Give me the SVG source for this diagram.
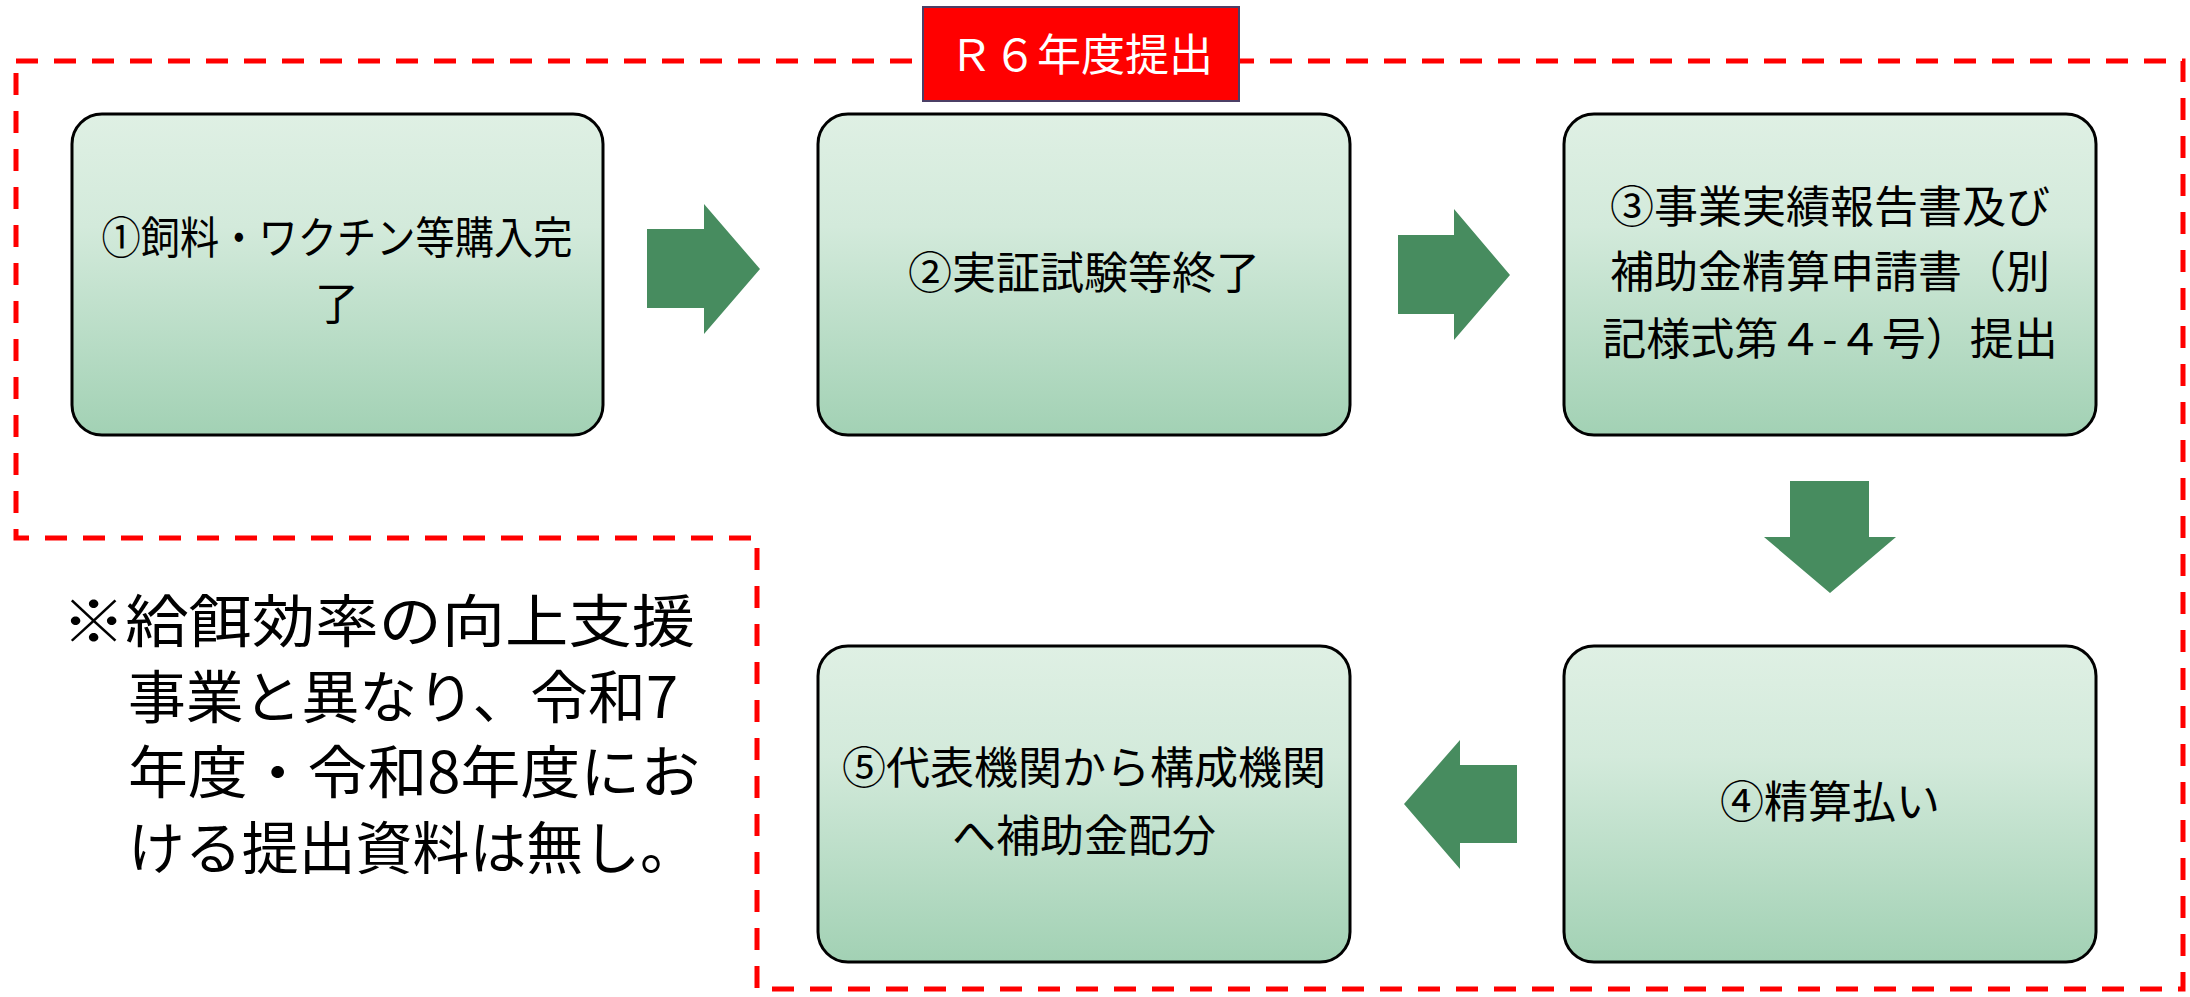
<svg xmlns="http://www.w3.org/2000/svg" width="2190" height="997" viewBox="0 0 2190 997">
<defs>
<linearGradient id="g" x1="0" y1="0" x2="0" y2="1">
<stop offset="0" stop-color="#dff0e4"/>
<stop offset="0.35" stop-color="#d3eadb"/>
<stop offset="1" stop-color="#a2d1b4"/>
</linearGradient>
<style>
.box{fill:url(#g);stroke:#000;stroke-width:3}
.t{font-family:"Noto Sans CJK JP","Noto Sans",sans-serif;font-size:44px;fill:#000;text-anchor:middle}
.arr{fill:#478c5f}
.note{font-family:"Noto Sans CJK JP","Noto Sans",sans-serif;font-size:57px;fill:#000}
</style>
</defs>
<rect width="2190" height="997" fill="#fff"/>
<path d="M16,61 H2183 V989 H757 V538 H16 Z" fill="none" stroke="#ff0000" stroke-width="5" stroke-dasharray="22 16"/>
<g id="label">
<rect x="923" y="7" width="316" height="94" fill="#ff0000" stroke="#4b3f66" stroke-width="2"/>
<text x="1081" y="71" class="t" style="fill:#fff">Ｒ６年度提出</text>
</g>
<g id="connectors">
<polygon class="arr" points="647,229 704,229 704,204 760,269 704,334 704,308 647,308"/>
<polygon class="arr" points="1398,235 1454,235 1454,209 1510,275 1454,340 1454,314 1398,314"/>
<polygon class="arr" points="1790,481 1869,481 1869,537 1896,537 1830,593 1764,537 1790,537"/>
<polygon class="arr" points="1517,765 1460,765 1460,740 1404,804 1460,869 1460,843 1517,843"/>
</g>
<g id="n1">
<rect class="box" x="72" y="114" width="531" height="321" rx="30"/>
<text class="t" x="337" y="254" textLength="471" lengthAdjust="spacingAndGlyphs">①飼料・ワクチン等購入完</text>
<text class="t" x="337" y="320">了</text>
</g>
<g id="n2">
<rect class="box" x="818" y="114" width="532" height="321" rx="30"/>
<text class="t" x="1084" y="289">②実証試験等終了</text>
</g>
<g id="n3">
<rect class="box" x="1564" y="114" width="532" height="321" rx="30"/>
<text class="t" x="1830" y="223">③事業実績報告書及び</text>
<text class="t" x="1830" y="288">補助金精算申請書（別</text>
<text class="t" x="1830" y="355">記様式第４-４号）提出</text>
</g>
<g id="n4">
<rect class="box" x="1564" y="646" width="532" height="316" rx="30"/>
<text class="t" x="1830" y="818">④精算払い</text>
</g>
<g id="n5">
<rect class="box" x="818" y="646" width="532" height="316" rx="30"/>
<text class="t" x="1084" y="784">⑤代表機関から構成機関</text>
<text class="t" x="1084" y="852">へ補助金配分</text>
</g>
<g id="note">
<text class="note" x="62" y="642" textLength="633" lengthAdjust="spacingAndGlyphs">※給餌効率の向上支援</text>
<text class="note" x="128" y="718" textLength="550" lengthAdjust="spacingAndGlyphs">事業と異なり、令和7</text>
<text class="note" x="128" y="793" textLength="572" lengthAdjust="spacingAndGlyphs">年度・令和8年度にお</text>
<text class="note" x="128" y="869" textLength="569" lengthAdjust="spacingAndGlyphs">ける提出資料は無し。</text>
</g>
</svg>
